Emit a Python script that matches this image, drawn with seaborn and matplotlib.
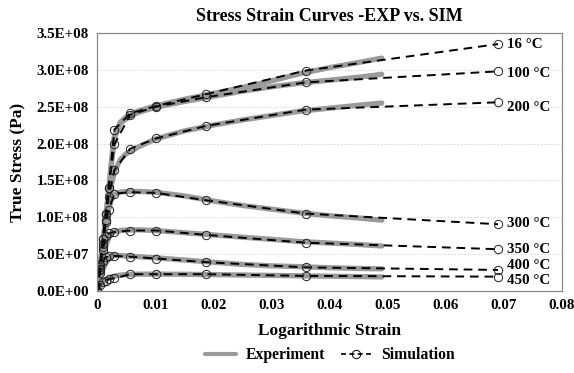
import numpy as np
import pandas as pd
import matplotlib
matplotlib.use("Agg")
import matplotlib.pyplot as plt
from matplotlib.lines import Line2D
import seaborn as sns

sns.set_theme(style="white")
plt.rcParams['font.family'] = ['Liberation Serif', 'DejaVu Serif']
plt.rcParams['font.weight'] = 'bold'
plt.rcParams['text.color'] = 'black'
plt.rcParams['axes.labelcolor'] = 'black'
plt.rcParams['xtick.color'] = 'black'
plt.rcParams['ytick.color'] = 'black'

temperatures = ["16 °C", "100 °C", "200 °C", "300 °C", "350 °C", "400 °C", "450 °C"]

# Experimental curves (strain, true stress in 1e8 Pa)
exp_strain = [0, 0.001, 0.002, 0.0025, 0.003, 0.004, 0.005, 0.007, 0.010,
              0.015, 0.020, 0.025, 0.030, 0.035, 0.040, 0.045, 0.049]
exp_16 = [0, 0.65, 1.35, 1.75, 2.10, 2.29, 2.36, 2.44, 2.51, 2.60, 2.68, 2.76, 2.85, 2.95, 3.03, 3.10, 3.16]
exp_100 = [0, 0.65, 1.35, 1.75, 2.08, 2.27, 2.34, 2.42, 2.49, 2.57, 2.64, 2.71, 2.77, 2.82, 2.86, 2.90, 2.94]
exp_200 = [0, 0.60, 1.20, 1.45, 1.62, 1.78, 1.86, 1.95, 2.06, 2.17, 2.25, 2.32, 2.38, 2.44, 2.48, 2.52, 2.55]
exp_300 = [0, 0.55, 1.10, 1.25, 1.31, 1.34, 1.35, 1.35, 1.34, 1.29, 1.22, 1.16, 1.11, 1.06, 1.02, 0.99, 0.96]
exp_350 = [0, 0.50, 0.72, 0.78, 0.80, 0.82, 0.825, 0.83, 0.82, 0.79, 0.76, 0.73, 0.70, 0.67, 0.65, 0.63, 0.61]
exp_400 = [0, 0.30, 0.44, 0.47, 0.48, 0.48, 0.475, 0.465, 0.45, 0.42, 0.39, 0.36, 0.34, 0.33, 0.315, 0.305, 0.30]
exp_450 = [0, 0.12, 0.17, 0.19, 0.20, 0.215, 0.222, 0.227, 0.228, 0.226, 0.221, 0.216, 0.211, 0.205, 0.200, 0.195, 0.19]

# Simulation results (strain, true stress in 1e8 Pa)
sim_strain = [0, 0.0005, 0.001, 0.0015, 0.002, 0.003, 0.0057, 0.0102, 0.0188, 0.0359, 0.069]
sim_16 = [0, 0.35, 0.70, 1.05, 1.40, 2.19, 2.41, 2.51, 2.67, 2.99, 3.35]
sim_100 = [0, 0.35, 0.70, 1.05, 1.40, 1.99, 2.39, 2.50, 2.63, 2.83, 2.98]
sim_200 = [0, 0.32, 0.64, 0.96, 1.28, 1.64, 1.93, 2.07, 2.24, 2.46, 2.56]
sim_300 = [0, 0.30, 0.60, 0.94, 1.10, 1.32, 1.34, 1.33, 1.23, 1.05, 0.905]
sim_350 = [0, 0.28, 0.55, 0.75, 0.78, 0.80, 0.82, 0.82, 0.76, 0.655, 0.566]
sim_400 = [0, 0.25, 0.40, 0.46, 0.47, 0.475, 0.465, 0.44, 0.39, 0.32, 0.285]
sim_450 = [0, 0.08, 0.12, 0.14, 0.16, 0.17, 0.227, 0.227, 0.227, 0.204, 0.194]

exp_series = [exp_16, exp_100, exp_200, exp_300, exp_350, exp_400, exp_450]
sim_series = [sim_16, sim_100, sim_200, sim_300, sim_350, sim_400, sim_450]

x_ticks = [0, 0.01, 0.02, 0.03, 0.04, 0.05, 0.06, 0.07, 0.08]
x_tick_labels = ["0", "0.01", "0.02", "0.03", "0.04", "0.05", "0.06", "0.07", "0.08"]
y_ticks = [0, 0.5e8, 1.0e8, 1.5e8, 2.0e8, 2.5e8, 3.0e8, 3.5e8]
y_tick_labels = ["0.0E+00", "5.0E+07", "1.0E+08", "1.5E+08", "2.0E+08", "2.5E+08", "3.0E+08", "3.5E+08"]

exp_df = pd.concat([
    pd.DataFrame({"strain": exp_strain, "stress": np.array(v) * 1e8, "T": t})
    for t, v in zip(temperatures, exp_series)
])
sim_df = pd.concat([
    pd.DataFrame({"strain": sim_strain, "stress": np.array(v) * 1e8, "T": t})
    for t, v in zip(temperatures, sim_series)
])

fig = plt.figure(figsize=(5.74, 3.73), dpi=100)
ax = fig.add_axes([0.169, 0.22, 0.81, 0.6915])

grey = "#9a9a9a"
for t in temperatures:
    sns.lineplot(data=exp_df[exp_df["T"] == t], x="strain", y="stress", ax=ax,
                 color=grey, linewidth=3.8, sort=False, estimator=None)
for t in temperatures:
    sns.lineplot(data=sim_df[sim_df["T"] == t], x="strain", y="stress", ax=ax,
                 color="black", linewidth=1.4, linestyle=(0, (4.5, 3)),
                 marker="o", markersize=6, markerfacecolor="none",
                 markeredgecolor="#222222", markeredgewidth=0.7,
                 sort=False, estimator=None)

# Temperature labels next to the last simulation point
label_offsets = [0, -0.035e8, -0.068e8, 0.014e8, 0, 0.054e8, -0.058e8]
for t, v, dy in zip(temperatures, sim_series, label_offsets):
    ax.text(0.0705, v[-1] * 1e8 + dy, t, fontsize=10.8, fontweight="bold",
            va="center", ha="left", color="black")

ax.set_xlim(0, 0.08)
ax.set_ylim(0, 3.5e8)
ax.set_xticks(x_ticks)
ax.set_xticklabels(x_tick_labels)
ax.set_yticks(y_ticks)
ax.set_yticklabels(y_tick_labels)
ax.tick_params(axis="both", labelsize=10.8, length=0, pad=6, labelcolor="black")
for lbl in ax.get_xticklabels() + ax.get_yticklabels():
    lbl.set_fontweight("bold")

ax.yaxis.grid(True, color="#d0d0d0", linestyle=(0, (2, 2)), linewidth=0.6)
ax.xaxis.grid(False)
for s in ax.spines.values():
    s.set_color("#8a8a8a")
    s.set_linewidth(0.9)

ax.set_xlabel("Logarithmic Strain", fontsize=12.5, fontweight="bold", labelpad=8, color="black")
ax.set_ylabel("True Stress (Pa)", fontsize=12.5, fontweight="bold", labelpad=7, color="black")
ax.set_title("Stress Strain Curves -EXP vs. SIM", fontsize=13, fontweight="bold", pad=9, color="black")

handles = [
    Line2D([], [], color=grey, linewidth=3),
    Line2D([], [], color="black", linewidth=1.2, linestyle=(0, (3, 2)),
           marker="o", markersize=6, markerfacecolor="none", markeredgewidth=0.7),
]
leg = fig.legend(handles, ["Experiment", "Simulation"], loc="center",
                 bbox_to_anchor=(0.575, 0.048), ncol=2, frameon=False,
                 prop={"weight": "bold", "size": 11.3}, handlelength=2.0,
                 columnspacing=1.0, handletextpad=0.6)
for txt in leg.get_texts():
    txt.set_color("black")

fig.savefig("out.png", dpi=100)
